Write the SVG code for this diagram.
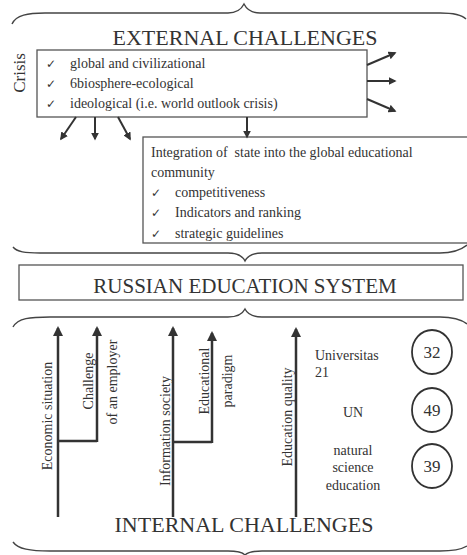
<svg xmlns="http://www.w3.org/2000/svg" width="467" height="555" viewBox="0 0 467 555">
<style>
text{font-family:"Liberation Serif","Times New Roman",serif;fill:#333}
.big{font-size:22px}
.t{font-size:14px}
.chk{font-family:"DejaVu Sans",sans-serif;font-size:12px;fill:#333}
.box{fill:#fff;stroke:#555;stroke-width:1.3}
.brace{fill:none;stroke:#444;stroke-width:1.4}
.arr{fill:none;stroke:#333;stroke-width:2;marker-end:url(#ah)}
.arrb{fill:none;stroke:#333;stroke-width:2.5;marker-end:url(#ah)}
.ln{fill:none;stroke:#333;stroke-width:2.5}
.circ{fill:none;stroke:#333;stroke-width:1.8}
</style>
<defs>
<marker id="ah" viewBox="0 0 10 10" refX="8" refY="5" markerWidth="4" markerHeight="4" orient="auto" markerUnits="strokeWidth">
<path d="M0,0 L10,5 L0,10 z" fill="#333"/>
</marker>
</defs>
<rect width="467" height="555" fill="#fff"/>

<g id="braces">
<path class="brace" d="M12,24 C16,15 28,13 45,13 L228,13 C238,13 242,8 244,4 C246,8 250,13 260,13 L440,13 C455,13 462,15 466,19"/>
<path class="brace" d="M13,247 C17,252 25,253 40,253 L228,253 C238,253 243,257 245,261 C247,257 252,253 262,253 L440,253 C455,253 462,249 467,245"/>
<path class="brace" d="M13,327 C18,318 30,317 50,317 L228,317 C238,317 243,313 245,309 C247,313 252,317 262,317 L440,317 C455,317 462,320 467,324"/>
<path class="brace" d="M13,542 C18,549 30,551 50,551 L228,551 C238,551 243,553 245,555 C247,553 252,551 262,551 L440,551 C455,551 462,549 467,546"/>
</g>

<g id="external-title">
<text class="big" x="245" y="45" text-anchor="middle">EXTERNAL CHALLENGES</text>
</g>

<g id="crisis">
<text x="25" y="73" font-size="17" text-anchor="middle" transform="rotate(-90 25 73)">Crisis</text>
<rect class="box" x="37" y="50" width="330" height="67"/>
<text class="chk" x="46" y="68">✓</text>
<text class="chk" x="46" y="88">✓</text>
<text class="chk" x="46" y="108">✓</text>
<text class="t" x="70" y="68">global and civilizational</text>
<text class="t" x="70" y="88">6biosphere-ecological</text>
<text class="t" x="70" y="108">ideological (i.e. world outlook crisis)</text>
</g>

<g id="integration">
<rect class="box" x="143" y="137" width="330" height="106"/>
<text class="t" x="151" y="157" xml:space="preserve">Integration of  state into the global educational</text>
<text class="t" x="151" y="177">community</text>
<text class="chk" x="151" y="197">✓</text>
<text class="chk" x="151" y="217">✓</text>
<text class="chk" x="151" y="238">✓</text>
<text class="t" x="175" y="197">competitiveness</text>
<text class="t" x="175" y="217">Indicators and ranking</text>
<text class="t" x="175" y="238">strategic guidelines</text>
</g>

<g id="russian-system">
<rect class="box" x="19" y="265" width="444" height="35"/>
<text x="245" y="293" font-size="21" text-anchor="middle">RUSSIAN EDUCATION SYSTEM</text>
</g>

<g id="internal-title">
<text class="big" x="244" y="532" text-anchor="middle">INTERNAL CHALLENGES</text>
</g>

<g id="connectors">
<line class="arr" x1="367" y1="65" x2="395" y2="53"/>
<line class="arr" x1="367" y1="81" x2="395" y2="81"/>
<line class="arr" x1="367" y1="99" x2="395" y2="111"/>
<line class="arr" x1="76" y1="117" x2="61" y2="139"/>
<line class="arr" x1="95" y1="117" x2="95" y2="139"/>
<line class="arr" x1="118" y1="117" x2="130" y2="139"/>
<line class="arr" x1="247" y1="117" x2="247" y2="137"/>

<line class="arrb" x1="58" y1="517" x2="58" y2="328"/>
<polyline class="ln" points="58,441 97,441"/>
<line class="arrb" x1="97" y1="442" x2="97" y2="328"/>
<line class="arrb" x1="173" y1="517" x2="173" y2="328"/>
<polyline class="ln" points="173,442 212,442"/>
<line class="arrb" x1="212" y1="443" x2="212" y2="333"/>
<line class="arrb" x1="296" y1="517" x2="296" y2="329"/>
</g>

<g id="economic">
<text class="t" x="52" y="416" text-anchor="middle" transform="rotate(-90 52 416)">Economic situation</text>
</g>
<g id="employer">
<text class="t" x="93" y="381" text-anchor="middle" transform="rotate(-90 93 381)">Challenge</text>
<text class="t" x="117" y="382" text-anchor="middle" transform="rotate(-90 117 382)">of an employer</text>
</g>
<g id="information">
<text class="t" x="170" y="431" text-anchor="middle" transform="rotate(-90 170 431)">Information society</text>
</g>
<g id="paradigm">
<text class="t" x="209" y="381" text-anchor="middle" transform="rotate(-90 209 381)">Educational</text>
<text class="t" x="232" y="381" text-anchor="middle" transform="rotate(-90 232 381)">paradigm</text>
</g>
<g id="quality">
<text class="t" x="292" y="417" text-anchor="middle" transform="rotate(-90 292 417)">Education quality</text>
</g>

<g id="universitas">
<text class="t" x="315" y="360">Universitas</text>
<text class="t" x="315" y="377">21</text>
<ellipse class="circ" cx="432" cy="352" rx="20" ry="22"/>
<text x="432" y="358" font-size="17" text-anchor="middle">32</text>
</g>
<g id="un">
<text class="t" x="353" y="417" text-anchor="middle">UN</text>
<ellipse class="circ" cx="432" cy="410" rx="20" ry="22"/>
<text x="432" y="416" font-size="17" text-anchor="middle">49</text>
</g>
<g id="natural">
<text class="t" x="353" y="455" text-anchor="middle">natural</text>
<text class="t" x="353" y="472" text-anchor="middle">science</text>
<text class="t" x="353" y="490" text-anchor="middle">education</text>
<ellipse class="circ" cx="432" cy="466" rx="20" ry="22"/>
<text x="432" y="472" font-size="17" text-anchor="middle">39</text>
</g>
</svg>
